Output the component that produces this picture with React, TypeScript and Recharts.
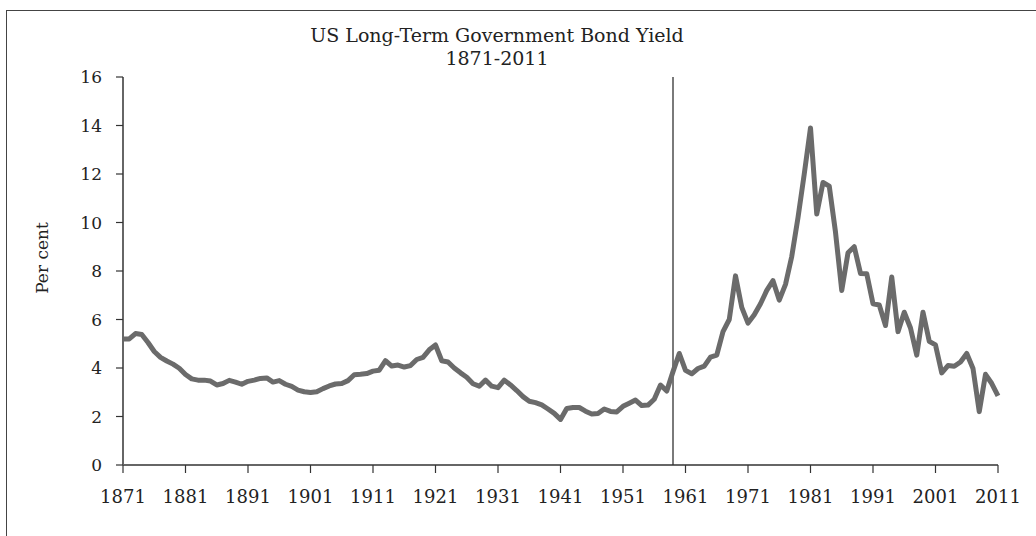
import { CartesianGrid, Line, LineChart, ReferenceLine, XAxis, YAxis } from 'recharts';

// annual long-term yield, per cent, 1871..2011
const firstYear = 1871;
const yields = [
  5.2, 5.2, 5.42, 5.38, 5.05, 4.68, 4.44, 4.29, 4.16, 3.99,
  3.73, 3.55, 3.5, 3.5, 3.46, 3.3, 3.36, 3.49, 3.42, 3.33,
  3.45, 3.5, 3.57, 3.59, 3.42, 3.48, 3.33, 3.24, 3.09, 3.02,
  2.99, 3.02, 3.15, 3.26, 3.34, 3.36, 3.48, 3.72, 3.74, 3.77,
  3.87, 3.91, 4.3, 4.08, 4.12, 4.04, 4.1, 4.35, 4.44, 4.75,
  4.95, 4.3, 4.25, 4.0, 3.8, 3.62, 3.35, 3.25, 3.5, 3.25,
  3.19, 3.5, 3.3, 3.07, 2.82, 2.63, 2.57, 2.48, 2.31, 2.13,
  1.88, 2.33, 2.37, 2.37, 2.22, 2.1, 2.12, 2.31, 2.21, 2.19,
  2.42, 2.55, 2.68, 2.45, 2.47, 2.71, 3.3, 3.05, 3.85, 4.6,
  3.9, 3.76, 3.98, 4.08, 4.45, 4.53, 5.5, 6.0, 7.8, 6.5,
  5.85, 6.2, 6.65, 7.2, 7.6, 6.8, 7.45, 8.6, 10.2, 12.0,
  13.9, 10.35, 11.65, 11.5, 9.6, 7.2, 8.75, 9.0, 7.9, 7.89,
  6.65, 6.6, 5.75, 7.75, 5.5, 6.3, 5.65, 4.53, 6.3, 5.1,
  4.95, 3.8, 4.1, 4.07, 4.25, 4.6, 3.98, 2.2, 3.74, 3.36,
  2.85,
];

const xTicks = [1871, 1881, 1891, 1901, 1911, 1921, 1931, 1941, 1951, 1961, 1971, 1981, 1991, 2001, 2011];
const yTicks = [0, 2, 4, 6, 8, 10, 12, 14, 16];
const markerYear = 1959;

const font = '"DejaVu Serif", "Liberation Serif", serif';

export default function App() {
  const data = yields.map((value, i) => ({ year: firstYear + i, value }));

  return (
    <div style={{ position: 'fixed', left: 0, top: 0, width: 1036, height: 536, background: '#fff', overflow: 'hidden' }}>
      <div
        style={{
          position: 'absolute',
          left: 6,
          top: 10,
          width: 1100,
          height: 600,
          borderTop: '1.5px solid #444',
          borderLeft: '1.5px solid #444',
        }}
      />
      <div
        style={{
          position: 'absolute',
          left: 0,
          top: 24,
          width: 994,
          textAlign: 'center',
          fontFamily: font,
          fontSize: 19,
          lineHeight: '23px',
          color: '#222',
        }}
      >
        US Long-Term Government Bond Yield
        <br />
        1871-2011
      </div>
      <div
        style={{
          position: 'absolute',
          left: 42,
          top: 258,
          transform: 'translate(-50%, -50%) rotate(-90deg)',
          fontFamily: font,
          fontSize: 17,
          color: '#222',
          whiteSpace: 'nowrap',
        }}
      >
        Per cent
      </div>
      <LineChart
        width={1036}
        height={536}
        data={data}
        margin={{ top: 77, right: 38, bottom: 41, left: 43 }}
        style={{ position: 'absolute', left: 0, top: 0 }}
      >
        <CartesianGrid horizontal={false} vertical={false} />
        <XAxis
          dataKey="year"
          type="number"
          domain={[1871, 2011]}
          ticks={xTicks}
          interval={0}
          height={30}
          tickSize={8}
          tickMargin={17}
          axisLine={{ stroke: '#333', strokeWidth: 1.5 }}
          tickLine={{ stroke: '#333', strokeWidth: 1.2 }}
          tick={{ fill: '#222', fontFamily: font, fontSize: 18 }}
        />
        <YAxis
          width={80}
          domain={[0, 16]}
          ticks={yTicks}
          interval={0}
          tickSize={7}
          tickMargin={14}
          axisLine={{ stroke: '#666', strokeWidth: 2 }}
          tickLine={{ stroke: '#333', strokeWidth: 1.2 }}
          tick={{ fill: '#222', fontFamily: font, fontSize: 17 }}
        />
        <ReferenceLine x={markerYear} stroke="#7a7a7a" strokeWidth={2} />
        <Line
          type="linear"
          dataKey="value"
          stroke="#6b6b6b"
          strokeWidth={5}
          strokeLinejoin="round"
          dot={false}
          activeDot={false}
          isAnimationActive={false}
        />
      </LineChart>
    </div>
  );
}
